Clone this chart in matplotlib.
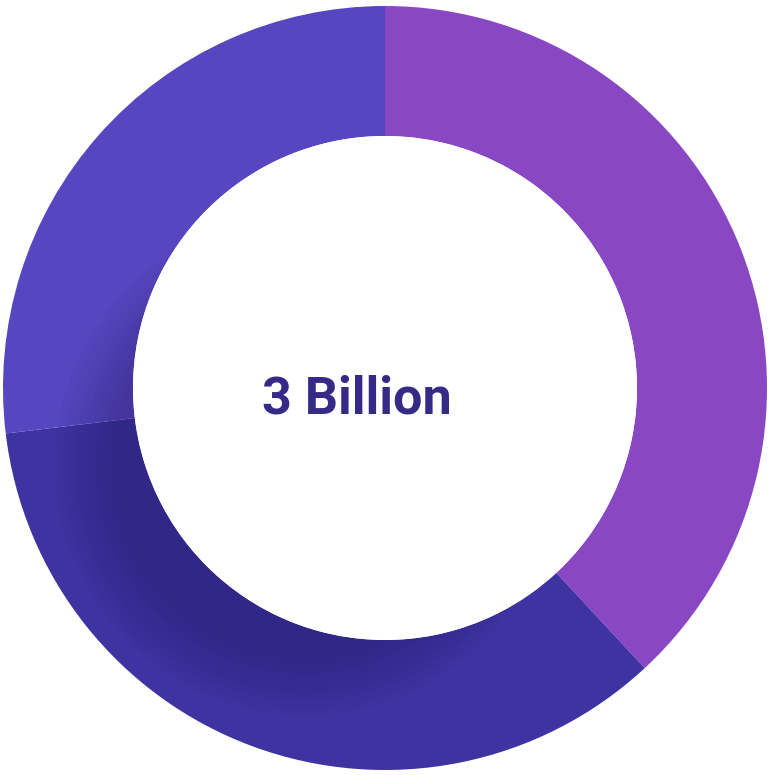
import numpy as np
import matplotlib.pyplot as plt
from matplotlib.patches import Circle, Wedge

shares = [38.1, 35.0, 26.9]
colors = ['#8a47c4', '#3f33a1', '#5646bf']
center_label = '3 Billion'

W, H = 770, 775
fig = plt.figure(figsize=(W / 100, H / 100), dpi=100)
ax = fig.add_axes([0, 0, 1, 1])

cx, cy = 385, 387
r_out, r_in = 382, 252

wedges, _ = ax.pie(shares, colors=colors, startangle=90, counterclock=False,
                   center=(cx, cy), radius=r_out,
                   wedgeprops=dict(width=r_out - r_in, linewidth=0))

# soft shadow of the hole, falling down-left onto the ring
ring = Wedge((cx, cy), r_out, 0, 360, width=r_out - r_in, transform=ax.transData)
sx, sy = 305, H - 465
for r in np.linspace(250, 195, 9):
    c = Circle((sx, sy), r, facecolor='#120a35', edgecolor='none', alpha=0.028, zorder=3)
    ax.add_patch(c)
    c.set_clip_path(ring)

ax.add_patch(Circle((cx, cy), r_in, facecolor='white', edgecolor='none', zorder=4))

ax.text(357, H - 400, center_label, ha='center', va='center', fontsize=37.5,
        fontweight='bold', family='Roboto', color='#352a86', zorder=5)

ax.set_xlim(0, W)
ax.set_ylim(0, H)
ax.set_aspect('equal')
ax.axis('off')

fig.savefig('out.png', dpi=100)
